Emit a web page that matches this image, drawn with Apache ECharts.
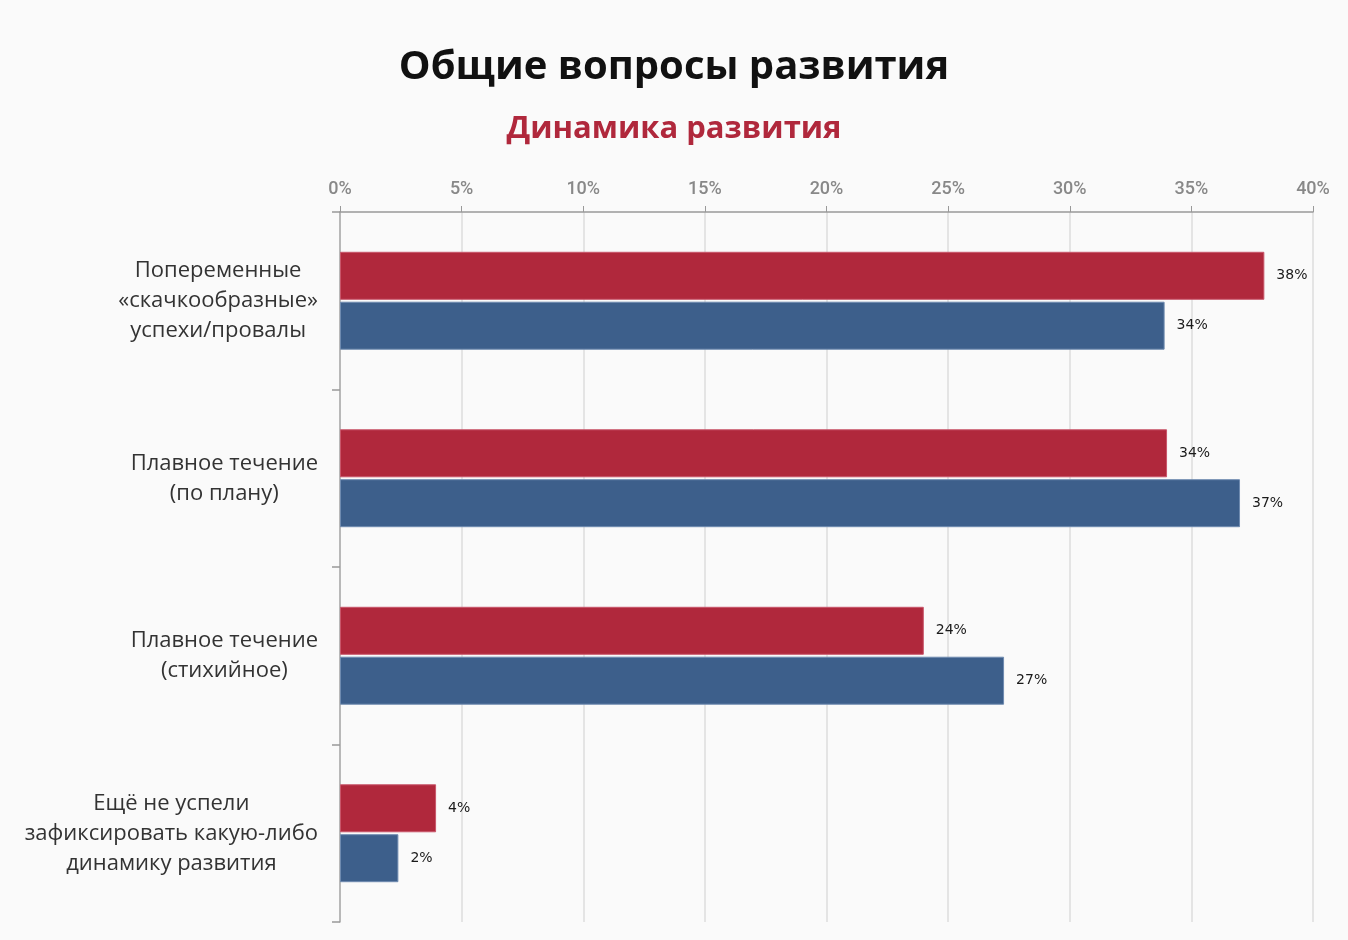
<!DOCTYPE html>
<html><head><meta charset="utf-8">
<script src="https://cdn.jsdelivr.net/npm/echarts@6/dist/echarts.min.js"></script>
<style>html,body{margin:0;padding:0;background:#fafafa}#c{width:1348px;height:940px}</style>
</head><body><div id="c"></div>
<script>
const categories = [
  "Попеременные\n«скачкообразные»\nуспехи/провалы",
  "Плавное течение\n(по плану)",
  "Плавное течение\n(стихийное)",
  "Ещё не успели\nзафиксировать какую-либо\nдинамику развития"
];
const seriesRed = [38, 34, 24, 3.95];
const seriesBlue = [33.9, 37, 27.3, 2.4];
const titleText = "Общие вопросы развития";
const subtitleText = "Динамика развития";

const chart = echarts.init(document.getElementById('c'));
const FONT = 'Roboto, "Noto Sans", sans-serif';
const FONT2 = '"Open Sans", Roboto, sans-serif';
const labelCfg = {
  show: true, position: 'right', distance: 12,
  color: '#1a1a1a', fontSize: 14, fontFamily: '"DejaVu Sans", sans-serif',
  formatter: p => Math.round(p.value) + '%'
};
chart.setOption({
  backgroundColor: '#fafafa',
  animation: false,
  title: [
    {text: titleText, left: 'center', top: 43,
     textStyle: {fontFamily: FONT2, fontWeight: 'bold', fontSize: 40, color: '#111'}},
    {text: subtitleText, left: 'center', top: 109,
     textStyle: {fontFamily: FONT2, fontWeight: 'bold', fontSize: 31, color: '#b0283c'}}
  ],
  grid: {left: 340, right: 35, top: 212, bottom: 18, containLabel: false},
  xAxis: {
    type: 'value', position: 'top', min: 0, max: 40, interval: 5,
    axisLine: {show: true, lineStyle: {color: '#999', width: 1.5}},
    axisTick: {show: true, length: 6, lineStyle: {color: '#999'}},
    splitLine: {show: true, lineStyle: {color: '#dcdcdc', width: 1.5}},
    axisLabel: {formatter: '{value}%', color: '#888', fontSize: 18, fontWeight: 500, fontFamily: FONT, margin: 14}
  },
  yAxis: {
    type: 'category', data: categories, inverse: true,
    axisLine: {show: true, lineStyle: {color: '#aaa', width: 1.5}},
    axisTick: {show: true, length: 8, lineStyle: {color: '#999', width: 1.5}},
    axisLabel: {
      margin: 22, align: 'right', color: '#333', fontSize: 22, fontFamily: FONT2, lineHeight: 30,
      formatter: v => v.split('\n').map(s => '{c|' + s + '}').join('\n'),
      rich: {c: {align: 'center', fontSize: 22, lineHeight: 30, color: '#333', fontFamily: FONT2}}
    }
  },
  series: [
    {type: 'bar', data: seriesRed, barWidth: 48, barGap: '4%',
     itemStyle: {color: '#b0283c', borderColor: '#c9566a', borderWidth: 1}, label: labelCfg},
    {type: 'bar', data: seriesBlue, barWidth: 48,
     itemStyle: {color: '#3d5f8b', borderColor: '#6f8bb0', borderWidth: 1}, label: labelCfg}
  ]
});
</script></body></html>
